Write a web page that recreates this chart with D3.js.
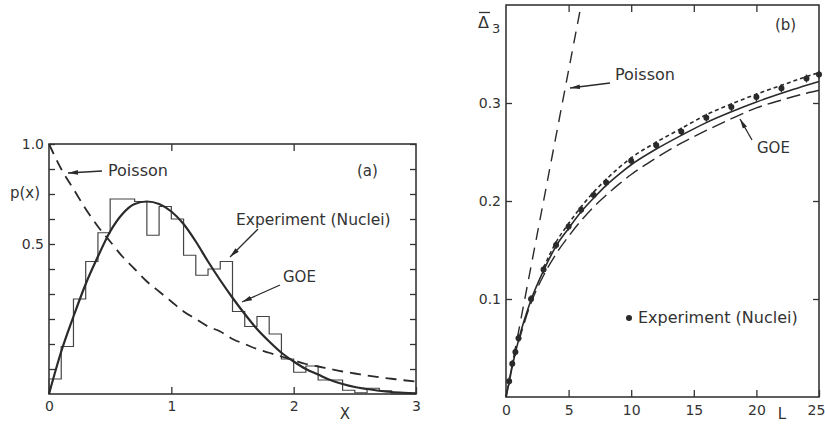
<!DOCTYPE html>
<html><head><meta charset="utf-8">
<script src="https://cdn.jsdelivr.net/npm/d3@7"></script>
<style>
html,body{margin:0;padding:0;background:#fff;}
svg{display:block;font-family:"DejaVu Sans",sans-serif;}
.tick text{fill:#333;font-size:14px;font-family:"DejaVu Sans",sans-serif;}
.tick line{stroke:#333;stroke-width:1.3;}
</style></head>
<body>
<svg id="c" width="825" height="424"></svg>
<script>
// ---------- Panel (a): nearest-neighbour spacing distribution ----------
const histStart = 0, histWidth = 0.1;
const histHeights = [0.06,0.19,0.38,0.53,0.645,0.78,0.78,0.77,0.635,0.75,
                     0.70,0.555,0.475,0.50,0.53,0.33,0.27,0.31,0.24,0.14,
                     0.087,0.112,0.056,0.056,0.015,0.005,0.023,0.013,0,0];
const curveX = [0,0.1,0.2,0.3,0.4,0.5,0.6,0.7,0.8,0.9,1.0,1.1,1.2,1.3,1.4,1.5,1.6,1.7,1.8,1.9,2.0,2.1,2.2,2.3,2.4,2.5,2.6,2.7,2.8,2.9,3.0];
const goeP = [0,0.17,0.31,0.44,0.55,0.65,0.72,0.76,0.77,0.76,0.73,0.68,0.61,0.53,0.455,0.385,0.32,0.26,0.21,0.165,0.13,0.10,0.078,0.056,0.04,0.028,0.02,0.013,0.008,0.005,0.003];
const poissonP = [1.0,0.9,0.82,0.74,0.67,0.61,0.55,0.50,0.45,0.41,0.37,0.33,0.30,0.27,0.25,0.22,0.20,0.18,0.165,0.15,0.135,0.12,0.11,0.10,0.09,0.082,0.074,0.067,0.061,0.055,0.05];
const xTicksA = [0,1,2,3];
const xTickLabelsA = ["0","1","2","3"];
const yMinorTicksA = [0.1,0.2,0.3,0.4,0.5,0.6,0.7,0.8,0.9,1.0];
const yLabelTicksA = [0.6,1.0];
const yTickLabelsA = ["0.5","1.0"];

// ---------- Panel (b): spectral rigidity ----------
const goeL = [0,0.25,0.5,1,1.5,2,3,4,5,6,7,8,9,10,12,14,16,18,20,22,24,25];
const goeD = [0,0.015,0.031,0.058,0.08,0.099,0.129,0.154,0.172,0.189,0.203,0.216,0.227,0.237,0.253,0.267,0.280,0.291,0.301,0.310,0.318,0.322];
const longL = [1,2,3,4,5,6,7,8,9,10,12,14,16,18,20,22,24,25];
const longD = [0.056,0.096,0.124,0.146,0.164,0.180,0.194,0.206,0.217,0.227,0.244,0.259,0.272,0.284,0.295,0.303,0.310,0.313];
const upperL = [3,4,5,6,7,8,10,12,14,16,18,20,22,24,25];
const upperD = [0.132,0.158,0.177,0.194,0.209,0.222,0.244,0.260,0.274,0.288,0.299,0.309,0.318,0.327,0.331];
const expL = [0.25,0.5,0.75,1,2,3,4,5,6,7,8,10,12,14,16,18,20,22,24,25];
const expD = [0.016,0.034,0.046,0.060,0.100,0.130,0.155,0.174,0.191,0.206,0.219,0.241,0.257,0.271,0.285,0.296,0.306,0.315,0.325,0.329];
const poissonL = [0,6];
const poissonD = [0,0.4];
const xTicksB = [0,5,10,15,20,25];
const yTicksB = [0.1,0.2,0.3];

const ink = "#2a2a2a";
const svg = d3.select("#c");
const defs = svg.append("defs");
defs.append("marker").attr("id","arr").attr("viewBox","0 0 10 6")
  .attr("refX",10).attr("refY",3).attr("markerWidth",10).attr("markerHeight",6)
  .attr("markerUnits","userSpaceOnUse").attr("orient","auto")
  .append("path").attr("d","M0,0.6 L10,3 L0,5.4 Z").attr("fill",ink);

// scales
const xA = d3.scaleLinear().domain([0,3]).range([49,416]);
const yA = d3.scaleLinear().domain([0,1]).range([394,144]);
const xB = d3.scaleLinear().domain([0,25]).range([506,819]);
const yB = d3.scaleLinear().domain([0,0.4]).range([397,5]);

function frame(x,y){
  svg.append("rect").attr("x",x.range()[0]).attr("y",y.range()[1])
    .attr("width",x.range()[1]-x.range()[0]).attr("height",y.range()[0]-y.range()[1])
    .attr("fill","none").attr("stroke",ink).attr("stroke-width",1.5);
}
const noDomain = g => g.select(".domain").remove();

// ---- Panel (a) axes
frame(xA,yA);
svg.append("g").attr("transform",`translate(0,${yA(0)})`)
  .call(d3.axisBottom(xA).tickValues(xTicksA).tickSize(-7).tickPadding(7)
        .tickFormat((d,i)=>xTickLabelsA[i])).call(noDomain);
svg.append("g").attr("transform",`translate(0,${yA(1)})`)
  .call(d3.axisTop(xA).tickValues([1,2]).tickSize(-7).tickFormat("")).call(noDomain);
svg.append("g").attr("transform",`translate(${xA(0)},0)`)
  .call(d3.axisLeft(yA).tickValues(yMinorTicksA).tickSize(-6).tickFormat("")).call(noDomain);
svg.append("g").attr("transform",`translate(${xA(0)},0)`)
  .call(d3.axisLeft(yA).tickValues(yLabelTicksA).tickSize(0).tickPadding(5)
        .tickFormat((d,i)=>yTickLabelsA[i])).call(noDomain);
svg.append("g").attr("transform",`translate(${xA(3)},0)`)
  .call(d3.axisRight(yA).tickValues(yMinorTicksA).tickSize(-6).tickFormat("")).call(noDomain);

// histogram outline
const histPts = [[histStart,0]];
histHeights.forEach((h,i)=>{
  const x0 = histStart + i*histWidth, x1 = x0 + histWidth;
  histPts.push([x0,h],[x1,h]);
});
histPts.push([histStart+histHeights.length*histWidth,0]);
svg.append("path").attr("d",d3.line().x(d=>xA(d[0])).y(d=>yA(d[1]))(histPts))
  .attr("fill","none").attr("stroke","#444").attr("stroke-width",1.2);

const lineA = d3.line().x(d=>xA(d[0])).y(d=>yA(d[1])).curve(d3.curveMonotoneX);
svg.append("path").attr("d",lineA(curveX.map((x,i)=>[x,poissonP[i]])))
  .attr("fill","none").attr("stroke",ink).attr("stroke-width",1.8).attr("stroke-dasharray","11,7");
svg.append("path").attr("d",lineA(curveX.map((x,i)=>[x,goeP[i]])))
  .attr("fill","none").attr("stroke",ink).attr("stroke-width",2.2);

// ---- Panel (b) axes
frame(xB,yB);
const gxb = svg.append("g").attr("transform",`translate(0,${yB(0)})`)
  .call(d3.axisBottom(xB).tickValues(xTicksB).tickSize(-7).tickPadding(8).tickFormat(d3.format("d"))).call(noDomain);
gxb.selectAll(".tick text").filter(d=>d===25).attr("dx",-3);
svg.append("g").attr("transform",`translate(0,${yB(0.4)})`)
  .call(d3.axisTop(xB).tickValues([5,10,15,20]).tickSize(-7).tickFormat("")).call(noDomain);
svg.append("g").attr("transform",`translate(${xB(0)},0)`)
  .call(d3.axisLeft(yB).tickValues(yTicksB).tickSize(-6).tickPadding(5).tickFormat(d3.format(".1f"))).call(noDomain);
svg.append("g").attr("transform",`translate(${xB(25)},0)`)
  .call(d3.axisRight(yB).tickValues(yTicksB).tickSize(-6).tickFormat("")).call(noDomain);

const lineB = d3.line().x(d=>xB(d[0])).y(d=>yB(d[1])).curve(d3.curveMonotoneX);
svg.append("path").attr("d",lineB(poissonL.map((l,i)=>[l,poissonD[i]])))
  .attr("fill","none").attr("stroke",ink).attr("stroke-width",1.4).attr("stroke-dasharray","12,8");
svg.append("path").attr("d",lineB(longL.map((l,i)=>[l,longD[i]])))
  .attr("fill","none").attr("stroke",ink).attr("stroke-width",1.4).attr("stroke-dasharray","14,6");
svg.append("path").attr("d",lineB(goeL.map((l,i)=>[l,goeD[i]])))
  .attr("fill","none").attr("stroke",ink).attr("stroke-width",1.6);
svg.append("path").attr("d",lineB(upperL.map((l,i)=>[l,upperD[i]])))
  .attr("fill","none").attr("stroke",ink).attr("stroke-width",1.6).attr("stroke-dasharray","4,3");
svg.append("g").selectAll("line").data(expL.map((l,i)=>[l,expD[i]])).join("line")
  .attr("x1",d=>xB(d[0])).attr("x2",d=>xB(d[0]))
  .attr("y1",d=>yB(d[1])-4).attr("y2",d=>yB(d[1])+4)
  .attr("stroke",ink).attr("stroke-width",1.2);
svg.append("g").selectAll("circle").data(expL.map((l,i)=>[l,expD[i]])).join("circle")
  .attr("cx",d=>xB(d[0])).attr("cy",d=>yB(d[1])).attr("r",3).attr("fill",ink);

// ---- Labels and annotations
function txt(x,y,s,opts={}){
  const t = svg.append("text").attr("x",x).attr("y",y).text(s)
    .attr("font-size",opts.size||15.5).attr("fill","#333")
    .attr("text-anchor",opts.anchor||"start");
  return t;
}
function arrow(x1,y1,x2,y2){
  svg.append("line").attr("x1",x1).attr("y1",y1).attr("x2",x2).attr("y2",y2)
    .attr("stroke",ink).attr("stroke-width",1.3).attr("marker-end","url(#arr)");
}
// (a)
txt(10,198,"p(x)",{size:15});
txt(108,176,"Poisson",{size:16});
arrow(102,171,68,173);
txt(357,176,"(a)",{size:15});
txt(236,225,"Experiment (Nuclei)",{size:15.5});
arrow(258,229,230,257);
txt(283,282,"GOE",{size:15});
arrow(280,285,242,302);
txt(345,419,"X",{size:15,anchor:"middle"});
// (b)
txt(478,28,"Δ",{size:16});
svg.append("line").attr("x1",479).attr("x2",490).attr("y1",12.5).attr("y2",12.5).attr("stroke","#333").attr("stroke-width",1.3);
txt(492,33,"3",{size:13});
txt(775,30,"(b)",{size:15});
txt(615,80,"Poisson",{size:16});
arrow(610,83,570,88);
txt(757,153,"GOE",{size:15});
arrow(752,140,740,119);
svg.append("circle").attr("cx",629).attr("cy",318).attr("r",3).attr("fill",ink);
txt(638,323,"Experiment (Nuclei)",{size:16});
txt(782,419,"L",{size:15,anchor:"middle"});
</script>
</body></html>
